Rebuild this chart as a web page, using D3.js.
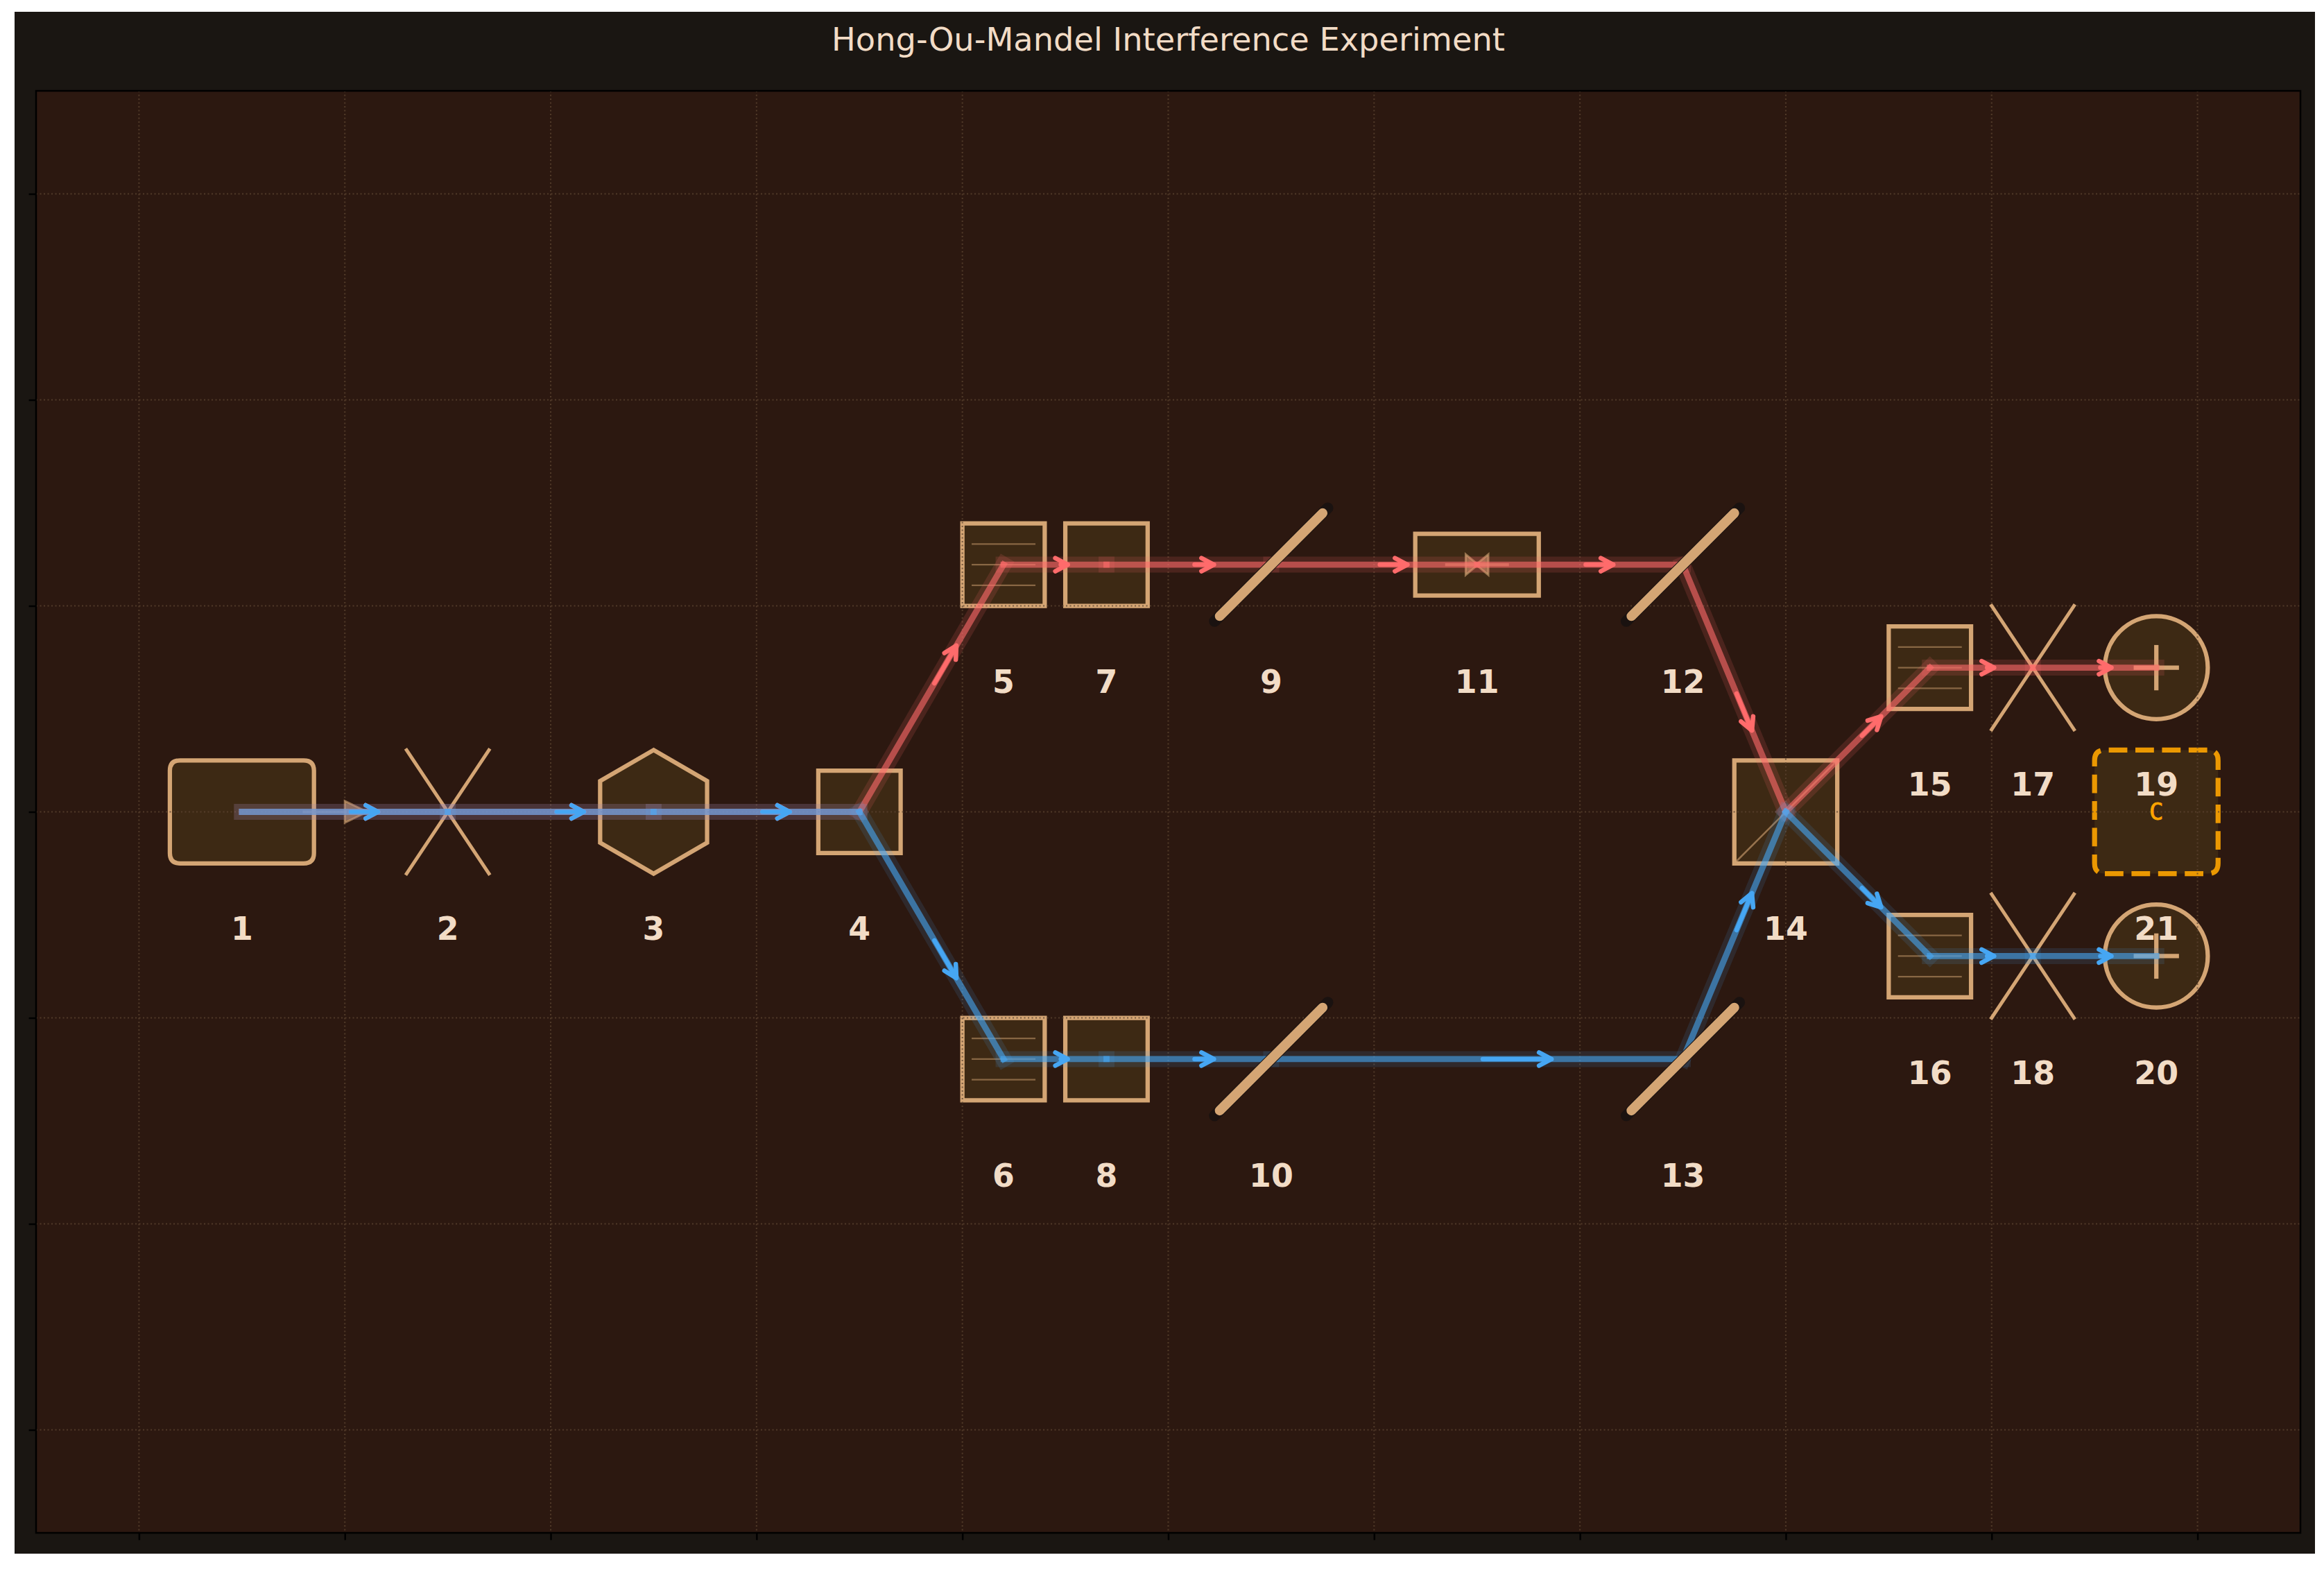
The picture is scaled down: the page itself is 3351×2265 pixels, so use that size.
<!DOCTYPE html>
<html>
<head>
<meta charset="utf-8">
<script src="https://cdn.jsdelivr.net/npm/d3@7/dist/d3.min.js"></script>
<style>
html,body{margin:0;padding:0;background:#fff;}
svg{display:block;}
text{font-family:"DejaVu Sans",sans-serif;}
</style>
</head>
<body>
<script>
// ---- Data (diagram coordinates) ----
const chartTitle = "Hong-Ou-Mandel Interference Experiment";
const componentIds = [1,2,3,4,5,6,7,8,9,10,11,12,13,14,15,16,17,18,19,20,21];
const componentX   = [1,3,5,7,8.4,8.4,9.4,9.4,11,11,13,15,15,16,17.4,17.4,18.4,18.4,19.6,19.6,19.6];
const componentY   = [0,0,0,0,2.4,-2.4,2.4,-2.4,2.4,-2.4,2.4,2.4,-2.4,0,1.4,-1.4,1.4,-1.4,1.4,-1.4,0];
const componentKinds = ["laser","lens","crystal","square","filter","filter","square","square","mirror","mirror",
  "delay","mirror","mirror","splitter","filter","filter","lens","lens","detector","detector","coincidence"];
const redPath  = [1,2,3,4,5,7,9,11,12,14,15,17,19];
const bluePath = [1,2,3,4,6,8,10,13,14,16,18,20];
const xTicks = [0,2,4,6,8,10,12,14,16,18,20];
const yTicks = [-6,-4,-2,0,2,4,6];
const xDomain = [-1,21];
const yDomain = [-7,7];

// ---- Styles ----
const W=3351,H=2265;
const C={fig:"#1A1612",ax:"#2C1810",fill:"#3D2914",tan:"#D4A574",grid:"#5C4430",red:"#FF6B6B",blue:"#46A6F3",
  text:"#F2DCC6",orange:"#FFA500",dark:"#1A1210"};
const LW=6.25;

const svg=d3.select("body").append("svg").attr("width",W).attr("height",H).attr("viewBox",`0 0 ${W} ${H}`);
svg.append("rect").attr("x",21).attr("y",17).attr("width",3317).attr("height",2223).attr("fill",C.fig);
const L=52,R=3317,T=131,B=2210;
const x=d3.scaleLinear().domain(xDomain).range([L,R]);
const y=d3.scaleLinear().domain(yDomain).range([B,T]);
const sx=d=>x(d)-x(0), sy=d=>y(0)-y(d);
svg.append("rect").attr("x",L).attr("y",T).attr("width",R-L).attr("height",B-T).attr("fill",C.ax);

const pts={};
componentIds.forEach((id,i)=>{pts[id]={id,x:componentX[i],y:componentY[i],kind:componentKinds[i],px:x(componentX[i]),py:y(componentY[i])};});
const comps=componentIds.map(id=>pts[id]);

const gPatch=svg.append("g"), gGrid=svg.append("g"), gLine=svg.append("g"),
      gBeam=svg.append("g"), gMirror=svg.append("g"), gArrow=svg.append("g"), gText=svg.append("g"), gAxis=svg.append("g");

function rbox(cx,cy,hw,hh,r){ // starts on the bottom edge, runs counter-clockwise on screen
  const x0=x(cx-hw),x1=x(cx+hw),y0=y(cy-hh),y1=y(cy+hh),p=sx(r),q=sy(r);
  return `M${x0+p},${y0}L${x1-p},${y0}Q${x1},${y0} ${x1},${y0-q}L${x1},${y1+q}Q${x1},${y1} ${x1-p},${y1}L${x0+p},${y1}Q${x0},${y1} ${x0},${y1+q}L${x0},${y0-q}Q${x0},${y0} ${x0+p},${y0}Z`;
}
function patch(d){return gPatch.append("path").attr("d",d).attr("fill",C.fill).attr("stroke",C.tan).attr("stroke-width",LW).attr("stroke-linejoin","miter");}
function rectPath(cx,cy,hw,hh){return `M${x(cx-hw)},${y(cy-hh)}L${x(cx+hw)},${y(cy-hh)}L${x(cx+hw)},${y(cy+hh)}L${x(cx-hw)},${y(cy+hh)}Z`;}
function ln(g,x1,y1,x2,y2,stroke,w,op,cap){
  return g.append("line").attr("x1",x(x1)).attr("y1",y(y1)).attr("x2",x(x2)).attr("y2",y(y2))
    .attr("stroke",stroke).attr("stroke-width",w).attr("stroke-opacity",op==null?1:op).attr("stroke-linecap",cap||"butt");
}
function tri(x0,y0,xa,h){
  const d=`M${x(x0)},${y(y0+h)}L${x(xa)},${y(y0)}L${x(x0)},${y(y0-h)}Z`;
  gLine.append("path").attr("d",d).attr("fill",C.tan).attr("fill-opacity",.55).attr("stroke",C.tan).attr("stroke-opacity",.6).attr("stroke-width",3);
}

comps.forEach(c=>{
  switch(c.kind){
    case "laser":
      patch(rbox(c.x,c.y,.7,.5,.1));
      ln(gLine,c.x+.59,c.y,c.x+1.02,c.y,C.tan,4.2,.6);
      tri(c.x+1,c.y,c.x+1.22,.105);
      break;
    case "lens":
      ln(gLine,c.x-.4,c.y+.6,c.x+.4,c.y-.6,C.tan,5,1,"square");
      ln(gLine,c.x-.4,c.y-.6,c.x+.4,c.y+.6,C.tan,5,1,"square");
      break;
    case "crystal":{
      const hex=d3.range(6).map(i=>{const a=Math.PI/2+i*Math.PI/3;return [x(c.x+.6*Math.cos(a)),y(c.y+.6*Math.sin(a))];});
      patch("M"+hex.join("L")+"Z");
      break;}
    case "square":
      patch(rectPath(c.x,c.y,.4,.4));
      break;
    case "filter":
      patch(rectPath(c.x,c.y,.4,.4));
      [-.2,0,.2].forEach(o=>ln(gLine,c.x-.31,c.y+o,c.x+.31,c.y+o,C.tan,2.2,.5));
      break;
    case "mirror":
      ln(gMirror,c.x-.55,c.y-.55,c.x+.55,c.y+.55,C.dark,16,1,"round");
      ln(gMirror,c.x-.5,c.y-.5,c.x+.5,c.y+.5,C.tan,14,1,"round");
      break;
    case "delay":
      patch(rectPath(c.x,c.y,.6,.3));
      ln(gLine,c.x-.31,c.y,c.x+.31,c.y,C.tan,4.2,.6);
      tri(c.x-.11,c.y,c.x+.01,.1);
      tri(c.x+.11,c.y,c.x-.01,.1);
      break;
    case "splitter":
      patch(rectPath(c.x,c.y,.5,.5));
      ln(gLine,c.x-.5,c.y-.5,c.x+.5,c.y+.5,C.tan,2.5,.6);
      break;
    case "detector":
      gPatch.append("circle").attr("cx",c.px).attr("cy",c.py).attr("r",sx(.5))
        .attr("fill",C.fill).attr("stroke",C.tan).attr("stroke-width",LW);
      ln(gLine,c.x-.22,c.y,c.x+.22,c.y,C.tan,LW);
      ln(gLine,c.x,c.y-.22,c.x,c.y+.22,C.tan,LW);
      break;
    case "coincidence":
      gPatch.append("path").attr("d",rbox(c.x,c.y,.6,.6,.1)).attr("fill",C.fill)
        .attr("stroke",C.orange).attr("stroke-opacity",.9).attr("stroke-width",7.2).attr("stroke-dasharray","26.8 11.6");
      gText.append("text").attr("x",c.px).attr("y",c.py).attr("dy","0.33em").attr("text-anchor","middle")
        .attr("fill",C.orange).attr("stroke",C.orange).attr("stroke-width",0.8).attr("font-size",34)
        .style("font-family",'"DejaVu Sans Mono",monospace').text("C");
      break;
  }
});

// grid above the patches, below the lines
gGrid.selectAll("line.gx").data(xTicks).join("line").attr("x1",d=>x(d)).attr("x2",d=>x(d)).attr("y1",T).attr("y2",B)
  .attr("stroke",C.grid).attr("stroke-width",2.1).attr("stroke-dasharray","2.1 3.4").attr("stroke-opacity",.75);
gGrid.selectAll("line.gy").data(yTicks).join("line").attr("y1",d=>y(d)).attr("y2",d=>y(d)).attr("x1",L).attr("x2",R)
  .attr("stroke",C.grid).attr("stroke-width",2.1).attr("stroke-dasharray","2.1 3.4").attr("stroke-opacity",.75);

// beams
const lineGen=d3.line().x(d=>d.px).y(d=>d.py);
function beam(path,color,gAlpha){
  const segs=d3.pairs(path.map(id=>pts[id]));
  segs.forEach(([a,b])=>{
    gBeam.append("path").attr("d",lineGen([a,b])).attr("fill","none").attr("stroke",color).attr("stroke-width",23).attr("stroke-opacity",gAlpha).attr("stroke-linecap","square");
    gBeam.append("path").attr("d",lineGen([a,b])).attr("fill","none").attr("stroke",color).attr("stroke-width",8.8).attr("stroke-opacity",.6).attr("stroke-linecap","square");
    const dx=b.px-a.px,dy=b.py-a.py,len=Math.hypot(dx,dy),ux=dx/len,uy=dy/len,shrink=8.3;
    const sX=a.px+.5*dx+ux*shrink,sY=a.py+.5*dy+uy*shrink;
    const tX=a.px+.7*dx-ux*(shrink+3),tY=a.py+.7*dy-uy*(shrink+3);
    const hl=18,hw=9.5;
    const bx=tX-ux*hl,by=tY-uy*hl;
    const d=`M${sX},${sY}L${tX},${tY}M${bx-uy*hw},${by+ux*hw}L${tX},${tY}L${bx+uy*hw},${by-ux*hw}`;
    gArrow.append("path").attr("d",d).attr("fill","none").attr("stroke",color).attr("stroke-width",6.5)
      .attr("stroke-linecap","round").attr("stroke-linejoin","round");
  });
}
beam(redPath,C.red,.15);
beam(bluePath,C.blue,.13);

// labels
gText.selectAll("text.lab").data(comps).join("text").attr("class","lab")
  .attr("x",d=>d.px).attr("y",d=>y(d.y-1.13)).attr("dy","0.365em").attr("text-anchor","middle")
  .attr("fill",C.text).attr("font-size",45.8).attr("font-weight","bold").text(d=>d.id);

// title
svg.append("text").attr("x",(L+R)/2).attr("y",56.5).attr("dy","0.36em").attr("text-anchor","middle")
  .attr("fill",C.text).attr("font-size",46.3).text(chartTitle);

// axes (ticks without labels)
const ax=d3.axisBottom(x).tickValues(xTicks).tickSize(10.4).tickFormat(()=> "");
const ay=d3.axisLeft(y).tickValues(yTicks).tickSize(10.4).tickFormat(()=> "");
[gAxis.append("g").attr("transform",`translate(0,${B})`).call(ax),
 gAxis.append("g").attr("transform",`translate(${L},0)`).call(ay)].forEach(g=>{
  g.select(".domain").remove();
  g.selectAll("line").attr("stroke","#000").attr("stroke-width",2.5);
});
gAxis.append("rect").attr("x",L).attr("y",T).attr("width",R-L).attr("height",B-T).attr("fill","none").attr("stroke","#000").attr("stroke-width",2.5);
</script>
</body>
</html>
